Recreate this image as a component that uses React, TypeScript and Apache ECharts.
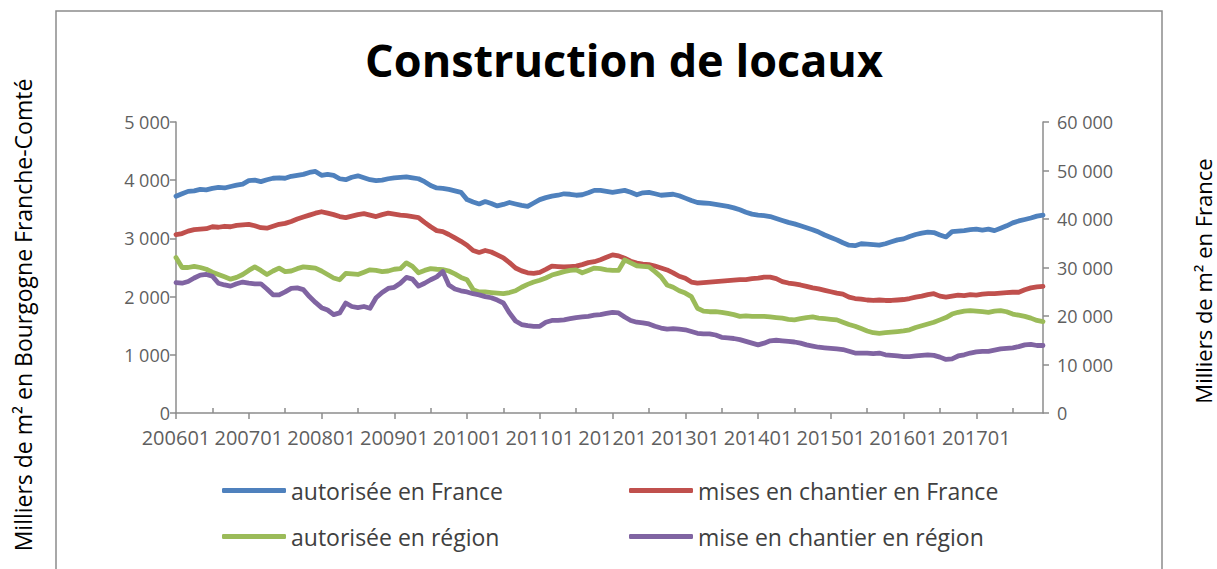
import React, { useEffect, useRef } from "react";
import * as echarts from "echarts";

const years = [2006, 2007, 2008, 2009, 2010, 2011, 2012, 2013, 2014, 2015, 2016, 2017];
const months = ["01", "02", "03", "04", "05", "06", "07", "08", "09", "10", "11", "12"];
const categories: string[] = [];
years.forEach((y) => months.forEach((m) => categories.push(`${y}${m}`)));

// Milliers de m² – France (right axis)
const autoriseeFrance = [
  44700, 45200, 45700, 45800, 46100, 46000, 46300, 46500, 46400, 46700, 47000, 47200,
  47900, 48000, 47700, 48100, 48400, 48500, 48400, 48800, 49000, 49200, 49600, 49800,
  49000, 49200, 49000, 48300, 48100, 48600, 48900, 48500, 48100, 47900, 48000, 48300,
  48500, 48600, 48700, 48500, 48300, 47700, 46900, 46400, 46300, 46100, 45800, 45500,
  44000, 43500, 43100, 43600, 43200, 42700, 43000, 43400, 43100, 42800, 42600, 43300,
  44000, 44400, 44700, 44900, 45200, 45100, 44900, 45000, 45400, 45900, 45900, 45700,
  45500, 45700, 45900, 45500, 45000, 45400, 45500, 45200, 44900, 45000, 45100, 44800,
  44300, 43800, 43400, 43300, 43200, 43000, 42800, 42600, 42300, 41900, 41400, 41000,
  40800, 40700, 40500, 40100, 39700, 39300, 39000, 38600, 38200, 37800, 37300, 36700,
  36200, 35700, 35100, 34600, 34500, 34900, 34800, 34700, 34600, 34900, 35300, 35700,
  35900, 36400, 36800, 37100, 37300, 37200, 36700, 36300, 37400, 37500, 37600, 37800,
  37900, 37700, 37900, 37600, 38100, 38600, 39200, 39600, 39900, 40200, 40600, 40800,
];
const chantierFrance = [
  36800, 37000, 37500, 37800, 37900, 38000, 38400, 38300, 38500, 38400, 38700, 38800,
  38900, 38600, 38200, 38100, 38500, 38900, 39100, 39500, 40000, 40400, 40800, 41200,
  41500, 41200, 40900, 40500, 40300, 40600, 40900, 41100, 40800, 40500, 40900, 41200,
  41000, 40800, 40700, 40500, 40300, 39300, 38400, 37600, 37400, 36800, 36100, 35400,
  34600, 33500, 33100, 33500, 33200, 32600, 32000, 31000, 29900, 29300, 28900, 28800,
  29000, 29600, 30300, 30200, 30100, 30200, 30300, 30600, 31000, 31200, 31600, 32100,
  32600, 32400, 31900, 31300, 30900, 30700, 30600, 30300, 29900, 29500, 28900, 28200,
  27800, 27000, 26800, 26900, 27000, 27100, 27200, 27300, 27400, 27500, 27500, 27700,
  27800, 28000, 28000, 27700, 27100, 26800, 26600, 26400, 26100, 25800, 25600, 25300,
  25000, 24700, 24500, 23900, 23600, 23500, 23300, 23200, 23300, 23200, 23200, 23300,
  23400, 23600, 23900, 24100, 24400, 24600, 24100, 23900, 24100, 24300, 24200, 24400,
  24300, 24500, 24600, 24600, 24700, 24800, 24900, 24900, 25400, 25800, 26000, 26100,
];
// Milliers de m² – Bourgogne Franche-Comté (left axis)
const autoriseeRegion = [
  2670, 2500, 2500, 2520, 2500, 2470, 2420, 2380, 2340, 2300, 2330, 2380,
  2450, 2510, 2450, 2380, 2440, 2490, 2430, 2440, 2480, 2510, 2500, 2490,
  2440, 2380, 2320, 2290, 2400, 2390, 2380, 2420, 2460, 2450, 2430, 2440,
  2470, 2480, 2580, 2520, 2410, 2450, 2480, 2470, 2465, 2440, 2390, 2330,
  2290, 2120, 2080, 2080, 2070, 2060, 2050, 2070, 2100, 2160, 2210, 2250,
  2280, 2320, 2370, 2400, 2430, 2450, 2460, 2410, 2450, 2490, 2480, 2460,
  2450, 2450, 2630, 2580, 2530, 2520, 2510, 2430, 2340, 2200, 2160, 2100,
  2060, 2000, 1800, 1750, 1740, 1740, 1730, 1710, 1690, 1660, 1670, 1660,
  1660, 1660, 1650, 1640, 1630, 1610, 1600, 1620, 1640, 1650, 1630, 1620,
  1610, 1600, 1560, 1520, 1490, 1450, 1410, 1380, 1370, 1380, 1390, 1400,
  1410, 1430, 1470, 1500, 1530, 1560, 1600, 1640, 1700, 1730, 1750, 1760,
  1750, 1740, 1730, 1750, 1760, 1740, 1700, 1680, 1660, 1630, 1590, 1570,
];
const chantierRegion = [
  2240, 2230, 2260, 2320, 2370, 2380, 2350, 2230, 2200, 2180, 2220, 2250,
  2230, 2220, 2220, 2130, 2030, 2030, 2080, 2140, 2150, 2120, 2000, 1900,
  1810, 1770, 1690, 1720, 1890, 1830, 1810, 1830, 1800, 1980, 2070, 2140,
  2160, 2230, 2330, 2300, 2180, 2230, 2290, 2340, 2430, 2200, 2130, 2100,
  2080, 2050, 2030, 2000, 1980, 1940, 1890, 1720, 1580, 1520, 1500, 1490,
  1490, 1560, 1590, 1590, 1600, 1620, 1640, 1650, 1660, 1680, 1690, 1710,
  1730, 1720, 1650, 1590, 1560, 1550, 1530, 1490, 1460, 1440, 1450, 1440,
  1430, 1400, 1370, 1360, 1360, 1340, 1300, 1290, 1280, 1260, 1230, 1200,
  1170, 1200, 1240, 1250, 1240, 1230, 1220, 1200, 1170, 1150, 1130, 1120,
  1110, 1100, 1090, 1060, 1030, 1030, 1030, 1020, 1030, 1000, 990, 980,
  970, 970, 980, 990, 1000, 990, 960, 920, 930, 980, 1000, 1030,
  1050, 1060, 1060, 1080, 1100, 1110, 1120, 1140, 1170, 1180, 1160, 1160,
];

const seriesNames = [
  "autorisée en France",
  "mises en chantier en France",
  "autorisée en région",
  "mise en chantier en région",
];
const seriesColors = ["#4F81BD", "#C0504D", "#9BBB59", "#8064A2"];

const leftTicks = [0, 1000, 2000, 3000, 4000, 5000];
const rightTicks = [0, 10000, 20000, 30000, 40000, 50000, 60000];

const fmt = (v: number) => String(v).replace(/\B(?=(\d{3})+(?!\d))/g, " ");

const FONT = "Open Sans";
const AXIS_COLOR = "#8c8c8c";
const LABEL_COLOR = "#5f5f5f";

export default function App() {
  const ref = useRef<HTMLDivElement>(null);
  useEffect(() => {
    if (!ref.current) return;
    const chart = echarts.init(ref.current, null, { renderer: "svg" });
    const axisLine = { show: true, lineStyle: { color: AXIS_COLOR, width: 1.5 } };
    const legendBase = {
      itemWidth: 64,
      itemHeight: 5,
      padding: 0,
      icon: "roundRect",
      textStyle: { fontFamily: FONT, fontSize: 23, color: "#404040" },
      selectedMode: false,
    };
    chart.setOption({
      animation: false,
      backgroundColor: "#ffffff",
      title: {
        text: "Construction de locaux",
        left: 619,
        top: 32,
        textAlign: "center",
        textStyle: { fontFamily: FONT, fontWeight: "bold", fontSize: 45, color: "#000000" },
      },
      grid: { left: 176, right: 174, top: 122, bottom: 156, containLabel: false },
      legend: [
        { ...legendBase, data: [seriesNames[0]], left: 222, top: 479 },
        { ...legendBase, data: [seriesNames[1]], left: 629, top: 479 },
        { ...legendBase, data: [seriesNames[2]], left: 222, top: 525 },
        { ...legendBase, data: [seriesNames[3]], left: 629, top: 525 },
      ],
      xAxis: [
        {
          type: "category",
          data: categories,
          boundaryGap: false,
          position: "bottom",
          axisLine,
          axisTick: {
            show: true,
            inside: false,
            length: 6,
            interval: (i: number) => i % 12 === 0,
            lineStyle: { color: AXIS_COLOR, width: 1.5 },
          },
          axisLabel: {
            interval: (i: number) => i % 12 === 0,
            margin: 14,
            fontFamily: FONT,
            fontSize: 20,
            color: LABEL_COLOR,
          },
          splitLine: { show: false },
        },
        {
          type: "category",
          data: categories,
          boundaryGap: false,
          position: "bottom",
          axisLine: { show: false },
          axisTick: {
            show: true,
            inside: true,
            length: 5,
            interval: (i: number) => i % 12 === 6,
            lineStyle: { color: AXIS_COLOR, width: 1.5 },
          },
          axisLabel: { show: false },
          splitLine: { show: false },
        },
      ],
      yAxis: [
        {
          type: "value",
          min: leftTicks[0],
          max: leftTicks[leftTicks.length - 1],
          interval: 1000,
          position: "left",
          axisLine,
          axisTick: { show: true, length: 6, lineStyle: { color: AXIS_COLOR, width: 1.5 } },
          axisLabel: {
            formatter: (v: number) => fmt(v),
            margin: 6,
            fontFamily: FONT,
            fontSize: 18,
            color: LABEL_COLOR,
          },
          splitLine: { show: false },
        },
        {
          type: "value",
          min: rightTicks[0],
          max: rightTicks[rightTicks.length - 1],
          interval: 10000,
          position: "right",
          axisLine,
          axisTick: { show: true, length: 6, lineStyle: { color: AXIS_COLOR, width: 1.5 } },
          axisLabel: {
            formatter: (v: number) => fmt(v),
            margin: 14,
            fontFamily: FONT,
            fontSize: 18,
            color: LABEL_COLOR,
          },
          splitLine: { show: false },
        },
      ],
      graphic: [
        {
          type: "rect",
          shape: { x: 56, y: 11, width: 1106, height: 620 },
          style: { fill: "none", stroke: "#8c8c8c", lineWidth: 1.5 },
          silent: true,
          z: 0,
        },
        {
          type: "text",
          x: 23,
          y: 315,
          rotation: Math.PI / 2,
          style: {
            text: "Milliers de m² en Bourgogne Franche-Comté",
            fontFamily: FONT,
            fontSize: 23,
            fill: "#000000",
            textAlign: "center",
            textVerticalAlign: "middle",
          },
        },
        {
          type: "text",
          x: 1203,
          y: 281,
          rotation: Math.PI / 2,
          style: {
            text: "Milliers de m² en France",
            fontFamily: FONT,
            fontSize: 22,
            fill: "#000000",
            textAlign: "center",
            textVerticalAlign: "middle",
          },
        },
      ],
      series: [
        { data: autoriseeFrance, yAxisIndex: 1 },
        { data: chantierFrance, yAxisIndex: 1 },
        { data: autoriseeRegion, yAxisIndex: 0 },
        { data: chantierRegion, yAxisIndex: 0 },
      ].map((s, k) => ({
        type: "line",
        name: seriesNames[k],
        data: s.data,
        xAxisIndex: 0,
        yAxisIndex: s.yAxisIndex,
        showSymbol: false,
        symbol: "none",
        color: seriesColors[k],
        lineStyle: { color: seriesColors[k], width: 4.8, cap: "round", join: "round" },
        itemStyle: { color: seriesColors[k] },
      })),
    });
    return () => chart.dispose();
  }, []);
  return (
    <div
      ref={ref}
      style={{ position: "fixed", left: 0, top: 0, width: 1217, height: 569, background: "#fff" }}
    />
  );
}
